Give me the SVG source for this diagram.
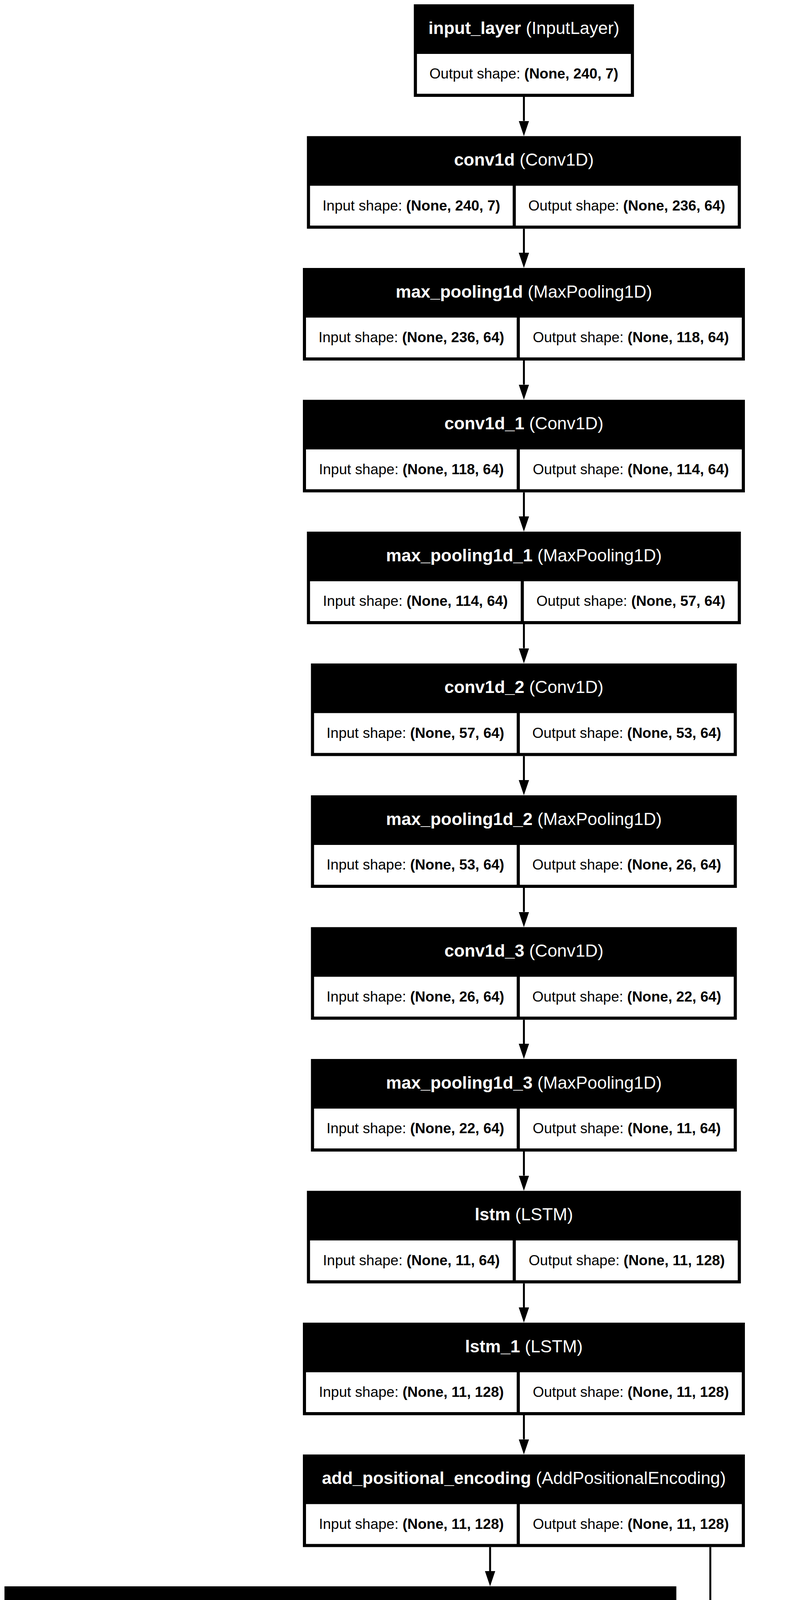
<svg xmlns="http://www.w3.org/2000/svg" width="2070" height="7010" viewBox="0 0 2070 7010">
<defs>
<style>
.box{fill:#000}
.cell{fill:#fff}
.t{font-family:"Liberation Sans",Arial,Helvetica,sans-serif;font-size:44.4px;fill:#fff;text-anchor:middle}
.c{font-family:"Liberation Sans",Arial,Helvetica,sans-serif;font-size:37px;fill:#000;text-anchor:middle}
.b{font-weight:bold}
.edge{stroke:#000;stroke-width:5;fill:none;marker-end:url(#ah)}
</style>
<marker id="ah" markerUnits="userSpaceOnUse" markerWidth="39" markerHeight="26.4" refX="0" refY="13.2" orient="auto" viewBox="0 0 39 26.4">
<path d="M0,0 L39,13.2 L0,26.4 Z" fill="#000"/>
</marker>
</defs>
<rect x="0" y="0" width="2070" height="7010" fill="#fff"/>

<g id="connectors">
<line class="edge" x1="1340.5" y1="248" x2="1340.5" y2="309.5"/>
<line class="edge" x1="1340.5" y1="585.5" x2="1340.5" y2="647"/>
<line class="edge" x1="1340.5" y1="923" x2="1340.5" y2="984.5"/>
<line class="edge" x1="1340.5" y1="1260.5" x2="1340.5" y2="1322"/>
<line class="edge" x1="1340.5" y1="1598" x2="1340.5" y2="1659.5"/>
<line class="edge" x1="1340.5" y1="1935.5" x2="1340.5" y2="1997"/>
<line class="edge" x1="1340.5" y1="2273" x2="1340.5" y2="2334.5"/>
<line class="edge" x1="1340.5" y1="2610.5" x2="1340.5" y2="2672"/>
<line class="edge" x1="1340.5" y1="2948" x2="1340.5" y2="3009.5"/>
<line class="edge" x1="1340.5" y1="3285.5" x2="1340.5" y2="3347"/>
<line class="edge" x1="1340.5" y1="3623" x2="1340.5" y2="3684.5"/>
<line class="edge" x1="1254" y1="3960.5" x2="1254" y2="4022"/>
<line class="edge" x1="1817.5" y1="3960.5" x2="1817.5" y2="4359.5"/>
<line class="edge" x1="1177" y1="4298" x2="1177" y2="4359.5"/>
<line class="edge" x1="1340.5" y1="4635.5" x2="1340.5" y2="4697"/>
<line class="edge" x1="1340.5" y1="4973" x2="1340.5" y2="5034.5"/>
<line class="edge" x1="1219.4" y1="5310.5" x2="1219.4" y2="5372"/>
<line class="edge" x1="1784" y1="5310.5" x2="1784" y2="5709.5"/>
<line class="edge" x1="1142.3" y1="5648" x2="1142.3" y2="5709.5"/>
<line class="edge" x1="1340.5" y1="5985.5" x2="1340.5" y2="6047"/>
<line class="edge" x1="1340.5" y1="6323" x2="1340.5" y2="6384.5"/>
<line class="edge" x1="1340.5" y1="6660.5" x2="1340.5" y2="6722"/>
</g>

<g id="input_layer">
<rect class="box" x="1058.85" y="11" width="563.3" height="237"/>
<rect class="cell" x="1066.85" y="138" width="547.3" height="102"/>
<text class="t" x="1340.5" y="86.5"><tspan class="b">input_layer</tspan> (InputLayer)</text>
<text class="c" x="1340.5" y="201">Output shape: <tspan class="b">(None, 240, 7)</tspan></text>
</g>

<g id="conv1d">
<rect class="box" x="785.3" y="348.5" width="1110.4" height="237"/>
<rect class="cell" x="793.3" y="475.5" width="518.5" height="102"/>
<rect class="cell" x="1319.8" y="475.5" width="567.9" height="102"/>
<text class="t" x="1340.5" y="424"><tspan class="b">conv1d</tspan> (Conv1D)</text>
<text class="c" x="1052.55" y="538.5">Input shape: <tspan class="b">(None, 240, 7)</tspan></text>
<text class="c" x="1603.75" y="538.5">Output shape: <tspan class="b">(None, 236, 64)</tspan></text>
</g>

<g id="max_pooling1d">
<rect class="box" x="775" y="686" width="1131" height="237"/>
<rect class="cell" x="783" y="813" width="539.1" height="102"/>
<rect class="cell" x="1330.1" y="813" width="567.9" height="102"/>
<text class="t" x="1340.5" y="761.5"><tspan class="b">max_pooling1d</tspan> (MaxPooling1D)</text>
<text class="c" x="1052.55" y="876">Input shape: <tspan class="b">(None, 236, 64)</tspan></text>
<text class="c" x="1614.05" y="876">Output shape: <tspan class="b">(None, 118, 64)</tspan></text>
</g>

<g id="conv1d_1">
<rect class="box" x="775" y="1023.5" width="1131" height="237"/>
<rect class="cell" x="783" y="1150.5" width="539.1" height="102"/>
<rect class="cell" x="1330.1" y="1150.5" width="567.9" height="102"/>
<text class="t" x="1340.5" y="1099"><tspan class="b">conv1d_1</tspan> (Conv1D)</text>
<text class="c" x="1052.55" y="1213.5">Input shape: <tspan class="b">(None, 118, 64)</tspan></text>
<text class="c" x="1614.05" y="1213.5">Output shape: <tspan class="b">(None, 114, 64)</tspan></text>
</g>

<g id="max_pooling1d_1">
<rect class="box" x="785.3" y="1361" width="1110.4" height="237"/>
<rect class="cell" x="793.3" y="1488" width="539.1" height="102"/>
<rect class="cell" x="1340.4" y="1488" width="547.3" height="102"/>
<text class="t" x="1340.5" y="1436.5"><tspan class="b">max_pooling1d_1</tspan> (MaxPooling1D)</text>
<text class="c" x="1062.85" y="1551">Input shape: <tspan class="b">(None, 114, 64)</tspan></text>
<text class="c" x="1614.05" y="1551">Output shape: <tspan class="b">(None, 57, 64)</tspan></text>
</g>

<g id="conv1d_2">
<rect class="box" x="795.6" y="1698.5" width="1089.8" height="237"/>
<rect class="cell" x="803.6" y="1825.5" width="518.5" height="102"/>
<rect class="cell" x="1330.1" y="1825.5" width="547.3" height="102"/>
<text class="t" x="1340.5" y="1774"><tspan class="b">conv1d_2</tspan> (Conv1D)</text>
<text class="c" x="1062.85" y="1888.5">Input shape: <tspan class="b">(None, 57, 64)</tspan></text>
<text class="c" x="1603.75" y="1888.5">Output shape: <tspan class="b">(None, 53, 64)</tspan></text>
</g>

<g id="max_pooling1d_2">
<rect class="box" x="795.6" y="2036" width="1089.8" height="237"/>
<rect class="cell" x="803.6" y="2163" width="518.5" height="102"/>
<rect class="cell" x="1330.1" y="2163" width="547.3" height="102"/>
<text class="t" x="1340.5" y="2111.5"><tspan class="b">max_pooling1d_2</tspan> (MaxPooling1D)</text>
<text class="c" x="1062.85" y="2226">Input shape: <tspan class="b">(None, 53, 64)</tspan></text>
<text class="c" x="1603.75" y="2226">Output shape: <tspan class="b">(None, 26, 64)</tspan></text>
</g>

<g id="conv1d_3">
<rect class="box" x="795.6" y="2373.5" width="1089.8" height="237"/>
<rect class="cell" x="803.6" y="2500.5" width="518.5" height="102"/>
<rect class="cell" x="1330.1" y="2500.5" width="547.3" height="102"/>
<text class="t" x="1340.5" y="2449"><tspan class="b">conv1d_3</tspan> (Conv1D)</text>
<text class="c" x="1062.85" y="2563.5">Input shape: <tspan class="b">(None, 26, 64)</tspan></text>
<text class="c" x="1603.75" y="2563.5">Output shape: <tspan class="b">(None, 22, 64)</tspan></text>
</g>

<g id="max_pooling1d_3">
<rect class="box" x="795.6" y="2711" width="1089.8" height="237"/>
<rect class="cell" x="803.6" y="2838" width="518.5" height="102"/>
<rect class="cell" x="1330.1" y="2838" width="547.3" height="102"/>
<text class="t" x="1340.5" y="2786.5"><tspan class="b">max_pooling1d_3</tspan> (MaxPooling1D)</text>
<text class="c" x="1062.85" y="2901">Input shape: <tspan class="b">(None, 22, 64)</tspan></text>
<text class="c" x="1603.75" y="2901">Output shape: <tspan class="b">(None, 11, 64)</tspan></text>
</g>

<g id="lstm">
<rect class="box" x="785.3" y="3048.5" width="1110.4" height="237"/>
<rect class="cell" x="793.3" y="3175.5" width="518.5" height="102"/>
<rect class="cell" x="1319.8" y="3175.5" width="567.9" height="102"/>
<text class="t" x="1340.5" y="3124"><tspan class="b">lstm</tspan> (LSTM)</text>
<text class="c" x="1052.55" y="3238.5">Input shape: <tspan class="b">(None, 11, 64)</tspan></text>
<text class="c" x="1603.75" y="3238.5">Output shape: <tspan class="b">(None, 11, 128)</tspan></text>
</g>

<g id="lstm_1">
<rect class="box" x="775" y="3386" width="1131" height="237"/>
<rect class="cell" x="783" y="3513" width="539.1" height="102"/>
<rect class="cell" x="1330.1" y="3513" width="567.9" height="102"/>
<text class="t" x="1340.5" y="3461.5"><tspan class="b">lstm_1</tspan> (LSTM)</text>
<text class="c" x="1052.55" y="3576">Input shape: <tspan class="b">(None, 11, 128)</tspan></text>
<text class="c" x="1614.05" y="3576">Output shape: <tspan class="b">(None, 11, 128)</tspan></text>
</g>

<g id="add_positional_encoding">
<rect class="box" x="775" y="3723.5" width="1131" height="237"/>
<rect class="cell" x="783" y="3850.5" width="539.1" height="102"/>
<rect class="cell" x="1330.1" y="3850.5" width="567.9" height="102"/>
<text class="t" x="1340.5" y="3799"><tspan class="b">add_positional_encoding</tspan> (AddPositionalEncoding)</text>
<text class="c" x="1052.55" y="3913.5">Input shape: <tspan class="b">(None, 11, 128)</tspan></text>
<text class="c" x="1614.05" y="3913.5">Output shape: <tspan class="b">(None, 11, 128)</tspan></text>
</g>

<g id="multi_head_attention">
<rect class="box" x="11.45" y="4061" width="1719.1" height="237"/>
<rect class="cell" x="19.45" y="4188" width="1127.2" height="102"/>
<rect class="cell" x="1154.65" y="4188" width="567.9" height="102"/>
<text class="t" x="871" y="4136.5"><tspan class="b">multi_head_attention</tspan> (MultiHeadAttention)</text>
<text class="c" x="583.05" y="4251">Input shape: <tspan class="b">[(None, 11, 128), (None, 11, 128), (None, 11, 128)]</tspan></text>
<text class="c" x="1438.6" y="4251">Output shape: <tspan class="b">(None, 11, 128)</tspan></text>
</g>

<g id="add">
<rect class="box" x="621.85" y="4398.5" width="1437.3" height="237"/>
<rect class="cell" x="629.85" y="4525.5" width="845.4" height="102"/>
<rect class="cell" x="1483.25" y="4525.5" width="567.9" height="102"/>
<text class="t" x="1340.5" y="4474"><tspan class="b">add</tspan> (Add)</text>
<text class="c" x="1052.55" y="4588.5">Input shape: <tspan class="b">[(None, 11, 128), (None, 11, 128)]</tspan></text>
<text class="c" x="1767.2" y="4588.5">Output shape: <tspan class="b">(None, 11, 128)</tspan></text>
</g>

<g id="layer_normalization">
<rect class="box" x="775" y="4736" width="1131" height="237"/>
<rect class="cell" x="783" y="4863" width="539.1" height="102"/>
<rect class="cell" x="1330.1" y="4863" width="567.9" height="102"/>
<text class="t" x="1340.5" y="4811.5"><tspan class="b">layer_normalization</tspan> (LayerNormalization)</text>
<text class="c" x="1052.55" y="4926">Input shape: <tspan class="b">(None, 11, 128)</tspan></text>
<text class="c" x="1614.05" y="4926">Output shape: <tspan class="b">(None, 11, 128)</tspan></text>
</g>

<g id="dense">
<rect class="box" x="775" y="5073.5" width="1131" height="237"/>
<rect class="cell" x="783" y="5200.5" width="539.1" height="102"/>
<rect class="cell" x="1330.1" y="5200.5" width="567.9" height="102"/>
<text class="t" x="1340.5" y="5149"><tspan class="b">dense</tspan> (Dense)</text>
<text class="c" x="1052.55" y="5263.5">Input shape: <tspan class="b">(None, 11, 128)</tspan></text>
<text class="c" x="1614.05" y="5263.5">Output shape: <tspan class="b">(None, 11, 128)</tspan></text>
</g>

<g id="attention">
<rect class="box" x="224.35" y="5411" width="1437.3" height="237"/>
<rect class="cell" x="232.35" y="5538" width="845.4" height="102"/>
<rect class="cell" x="1085.75" y="5538" width="567.9" height="102"/>
<text class="t" x="943" y="5486.5"><tspan class="b">attention</tspan> (Attention)</text>
<text class="c" x="655.05" y="5601">Input shape: <tspan class="b">[(None, 11, 128), (None, 11, 128)]</tspan></text>
<text class="c" x="1369.7" y="5601">Output shape: <tspan class="b">(None, 11, 128)</tspan></text>
</g>

<g id="add_1">
<rect class="box" x="621.85" y="5748.5" width="1437.3" height="237"/>
<rect class="cell" x="629.85" y="5875.5" width="845.4" height="102"/>
<rect class="cell" x="1483.25" y="5875.5" width="567.9" height="102"/>
<text class="t" x="1340.5" y="5824"><tspan class="b">add_1</tspan> (Add)</text>
<text class="c" x="1052.55" y="5938.5">Input shape: <tspan class="b">[(None, 11, 128), (None, 11, 128)]</tspan></text>
<text class="c" x="1767.2" y="5938.5">Output shape: <tspan class="b">(None, 11, 128)</tspan></text>
</g>

<g id="layer_normalization_1">
<rect class="box" x="775" y="6086" width="1131" height="237"/>
<rect class="cell" x="783" y="6213" width="539.1" height="102"/>
<rect class="cell" x="1330.1" y="6213" width="567.9" height="102"/>
<text class="t" x="1340.5" y="6161.5"><tspan class="b">layer_normalization_1</tspan> (LayerNormalization)</text>
<text class="c" x="1052.55" y="6276">Input shape: <tspan class="b">(None, 11, 128)</tspan></text>
<text class="c" x="1614.05" y="6276">Output shape: <tspan class="b">(None, 11, 128)</tspan></text>
</g>

<g id="global_average_pooling1d">
<rect class="box" x="750.25" y="6423.5" width="1180.5" height="237"/>
<rect class="cell" x="758.25" y="6550.5" width="594.7" height="102"/>
<rect class="cell" x="1360.95" y="6550.5" width="561.8" height="102"/>
<text class="t" x="1340.5" y="6499"><tspan class="b">global_average_pooling1d</tspan> (GlobalAveragePooling1D)</text>
<text class="c" x="1055.6" y="6613.5">Input shape: <tspan class="b">(None, 11, 128)</tspan></text>
<text class="c" x="1641.85" y="6613.5">Output shape: <tspan class="b">(None, 128)</tspan></text>
</g>

<g id="dense_1">
<rect class="box" x="857.3" y="6761" width="966.4" height="237"/>
<rect class="cell" x="865.3" y="6888" width="477.4" height="102"/>
<rect class="cell" x="1350.7" y="6888" width="465" height="102"/>
<text class="t" x="1340.5" y="6836.5"><tspan class="b">dense_1</tspan> (Dense)</text>
<text class="c" x="1104" y="6951">Input shape: <tspan class="b">(None, 128)</tspan></text>
<text class="c" x="1583.2" y="6951">Output shape: <tspan class="b">(None, 5)</tspan></text>
</g>
</svg>
